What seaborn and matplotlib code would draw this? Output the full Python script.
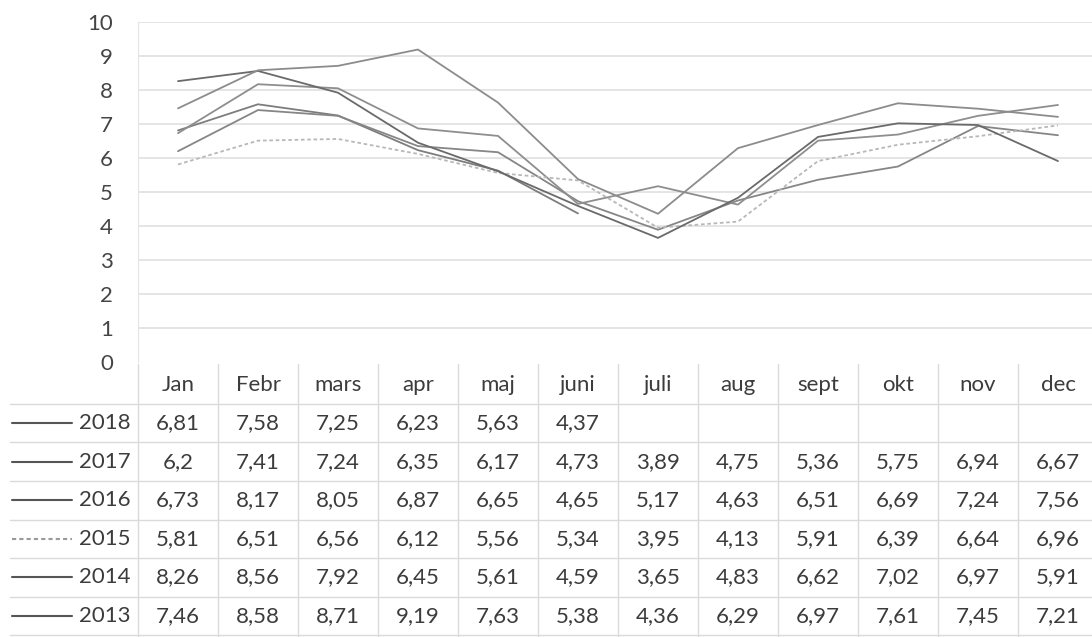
import pandas as pd
import matplotlib.pyplot as plt
import seaborn as sns
from matplotlib.transforms import blended_transform_factory

# Monthly values per year
months = ['Jan', 'Febr', 'mars', 'apr', 'maj', 'juni', 'juli', 'aug', 'sept', 'okt', 'nov', 'dec']
years = ['2018', '2017', '2016', '2015', '2014', '2013']
v2018 = [6.81, 7.58, 7.25, 6.23, 5.63, 4.37, None, None, None, None, None, None]
v2017 = [6.2, 7.41, 7.24, 6.35, 6.17, 4.73, 3.89, 4.75, 5.36, 5.75, 6.94, 6.67]
v2016 = [6.73, 8.17, 8.05, 6.87, 6.65, 4.65, 5.17, 4.63, 6.51, 6.69, 7.24, 7.56]
v2015 = [5.81, 6.51, 6.56, 6.12, 5.56, 5.34, 3.95, 4.13, 5.91, 6.39, 6.64, 6.96]
v2014 = [8.26, 8.56, 7.92, 6.45, 5.61, 4.59, 3.65, 4.83, 6.62, 7.02, 6.97, 5.91]
v2013 = [7.46, 8.58, 8.71, 9.19, 7.63, 5.38, 4.36, 6.29, 6.97, 7.61, 7.45, 7.21]
series = [v2018, v2017, v2016, v2015, v2014, v2013]

colors = {'2018': '#7d7d7d', '2017': '#868686', '2016': '#8e8e8e',
          '2015': '#b8b8b8', '2014': '#6a6a6a', '2013': '#8c8c8c'}
dashes = {y: '' for y in years}
dashes['2015'] = (2, 1.5)

rows = []
for y, vals in zip(years, series):
    for m, v in zip(months, vals):
        rows.append({'month': m, 'year': y, 'value': v})
df = pd.DataFrame(rows)

sns.set_style('white')
plt.rcParams['font.family'] = ['Lato', 'DejaVu Sans']

W, H = 1092, 637
fig = plt.figure(figsize=(W / 100, H / 100), dpi=100)
# plot area in pixels: left 138, 80 px per month, y=10 at 22, y=0 at 362
ax = fig.add_axes([138 / W, 1 - 362 / H, 960 / W, 340 / H])

sns.lineplot(data=df.dropna(), x='month', y='value', hue='year', style='year',
             palette=colors, dashes=dashes, hue_order=years, sort=False,
             linewidth=1.3, legend=False, ax=ax)

ax.set_xlim(-0.5, 11.5)
ax.set_ylim(0, 10)
ax.set_yticks(range(0, 11))
ax.set_xticks([])
ax.set_xlabel('')
ax.set_ylabel('')
ax.tick_params(axis='y', length=0, labelsize=16, labelcolor='#454545', pad=18)
for y in range(1, 11):
    ax.axhline(y, color='#e0e0e0', lw=1.2, zorder=0)
for s in ['top', 'right', 'bottom']:
    ax.spines[s].set_visible(False)
ax.spines['left'].set_color('#e4e4e4')

# data table below the chart
tr = blended_transform_factory(ax.transData, ax.transAxes)

def ay(py):
    return (362 - py) / 340

def dx(px):
    return (px - 138) / 80 - 0.5

header_y = 385
row_h = 38.6
first_row = 423
txt = dict(fontsize=16, color='#3c3c3c', va='center', transform=tr, clip_on=False)

for i, m in enumerate(months):
    ax.text(i, ay(header_y), m, ha='center', **txt)

for r, (y, vals) in enumerate(zip(years, series)):
    cy = first_row + r * row_h
    ax.text(dx(131), ay(cy), y, ha='right', **txt)
    ax.plot([dx(12), dx(72)], [ay(cy), ay(cy)], transform=tr, clip_on=False,
            color='#555555' if y != '2015' else '#9a9a9a', lw=1.5,
            ls='-' if y != '2015' else (0, (2, 1.5)))
    for i, v in enumerate(vals):
        if v is None:
            continue
        ax.text(i, ay(cy), f'{v:g}'.replace('.', ','), ha='center', **txt)

# table grid lines
for r in range(len(years) + 1):
    py = first_row - row_h / 2 + r * row_h
    ax.plot([dx(10), 11.6], [ay(py), ay(py)], transform=tr, clip_on=False,
            color='#dadada', lw=1)
for k in range(len(months) + 1):
    ax.plot([k - 0.5, k - 0.5], [ay(364), ay(637)], transform=tr, clip_on=False,
            color='#dadada', lw=1)

fig.savefig('out.png', dpi=100)
